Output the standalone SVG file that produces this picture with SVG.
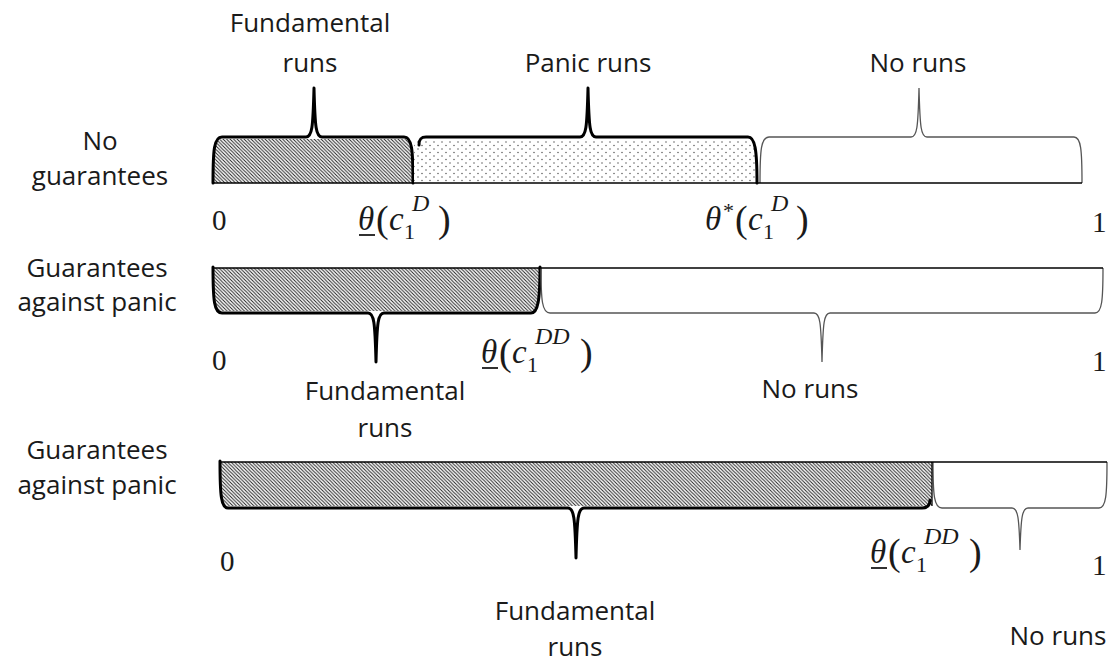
<svg xmlns="http://www.w3.org/2000/svg" width="1115" height="667" viewBox="0 0 1115 667">
<style>
.lbl{font-family:"Open Sans","Liberation Sans",sans-serif;font-size:26px;fill:#1a1a1a;text-anchor:middle}
.num{font-family:"Liberation Serif","Times New Roman",serif;font-size:29px;fill:#1a1a1a}
.mi{font-family:"Liberation Serif","Times New Roman",serif;font-size:33px;font-style:italic;fill:#1a1a1a}
.mp{font-family:"Liberation Serif","Times New Roman",serif;font-size:38px;fill:#1a1a1a}
.ms{font-family:"Liberation Serif","Times New Roman",serif;font-size:22px;fill:#1a1a1a}
.msup{font-family:"Liberation Serif","Times New Roman",serif;font-size:24px;font-style:italic;fill:#1a1a1a}
.ul{stroke:#1a1a1a;stroke-width:1.8}
.thick{fill:none;stroke:#000;stroke-width:3;stroke-linejoin:round;stroke-linecap:round}
.thin{fill:none;stroke:#555;stroke-width:1.3}
.axis{fill:none;stroke:#000;stroke-width:1.3}
.hatch{fill:url(#hatch);stroke:none}
.dots{fill:url(#dots);stroke:none}
</style>
<defs>
<pattern id="hatch" width="3.5" height="3.5" patternUnits="userSpaceOnUse">
<rect width="3.5" height="3.5" fill="#fff"/>
<path d="M0,0 L3.5,3.5 M-1,2.5 L1,4.5 M2.5,-1 L4.5,1" stroke="#222" stroke-width="1"/>
</pattern>
<pattern id="dots" width="8" height="7" patternUnits="userSpaceOnUse">
<rect width="8" height="7" fill="#fff"/>
<circle cx="2" cy="2" r="0.75" fill="#555"/>
<circle cx="6" cy="5.5" r="0.75" fill="#555"/>
</pattern>
</defs>
<rect width="1115" height="667" fill="#fff"/>

<!-- Row 1: No guarantees -->
<g id="row1-label"><text class="lbl" x="100" y="150">No</text><text class="lbl" x="100" y="185">guarantees</text></g>
<g id="row1-fundamental">
<path class="hatch" d="M213,183 C213,152 214,139 222,139 L404,139 C412,139 413,152 413,183 Z"/>
<path class="thick" d="M213,183 C213,150 214,137 222,137 L306,137 C312,137 313,128 314,88 C315,128 316,137 322,137 L404,137 C412,137 413,150 413,183"/>
<text class="lbl" x="310" y="32">Fundamental</text><text class="lbl" x="310" y="72">runs</text>
</g>
<g id="row1-panic">
<path class="dots" d="M414,183 L414,140 L749,140 C755,140 756,150 756,183 Z"/>
<path class="thick" d="M419,145 C419,139 421,137 426,137 L580,137 C586,137 587,128 588,88 C589,128 590,137 596,137 L748,137 C755,137 757,150 757,183"/>
<text class="lbl" x="588" y="72">Panic runs</text>
</g>
<g id="row1-noruns">
<path class="thin" d="M760,183 C760,150 761,137 769,137 L911,137 C917,137 918,128 919,88 C920,128 921,137 927,137 L1074,137 C1081,137 1082,150 1082,183"/>
<text class="lbl" x="918" y="72">No runs</text>
</g>
<g id="row1-ticks">
<text class="num" x="212" y="230">0</text>
<text class="num" x="1092" y="232">1</text>
<g transform="translate(358,230)">
<text class="mi" x="0" y="0">θ</text><line class="ul" x1="1" y1="5" x2="17" y2="5"/>
<text class="mp" x="18" y="2">(</text><text class="mi" x="31" y="0">c</text>
<text class="ms" x="46" y="9">1</text><text class="msup" x="54" y="-19">D</text>
<text class="mp" x="80" y="2">)</text>
</g>
<g transform="translate(705,230)">
<text class="mi" x="0" y="0">θ</text><text class="ms" x="18" y="-12">*</text>
<text class="mp" x="30" y="2">(</text><text class="mi" x="43" y="0">c</text>
<text class="ms" x="58" y="9">1</text><text class="msup" x="66" y="-19">D</text>
<text class="mp" x="91" y="2">)</text>
</g>
</g>

<!-- Row 2 -->
<g id="row2-label"><text class="lbl" x="97" y="277">Guarantees</text><text class="lbl" x="97" y="311">against panic</text></g>
<g id="row2-fundamental">
<path class="hatch" d="M213,268 L540,268 C540,300 538,311 531,311 L222,311 C214,311 213,300 213,268 Z"/>
<path class="thick" d="M213,267 C213,300 214,313 222,313 L368,313 C374,313 375,322 376,362 C377,322 378,313 384,313 L531,313 C538,313 540,300 540,267"/>
<text class="lbl" x="385" y="400">Fundamental</text><text class="lbl" x="385" y="437">runs</text>
</g>
<g id="row2-noruns">
<path class="thin" d="M541,268 C541,300 542,313 550,313 L814,313 C820,313 821,322 822,362 C823,322 824,313 830,313 L1095,313 C1102,313 1103,300 1103,268"/>
<text class="lbl" x="810" y="398">No runs</text>
</g>
<g id="row2-ticks">
<text class="num" x="212" y="370">0</text>
<text class="num" x="1092" y="371">1</text>
<g transform="translate(481,363)">
<text class="mi" x="0" y="0">θ</text><line class="ul" x1="1" y1="5" x2="17" y2="5"/>
<text class="mp" x="18" y="2">(</text><text class="mi" x="31" y="0">c</text>
<text class="ms" x="46" y="9">1</text><text class="msup" x="54" y="-19">DD</text>
<text class="mp" x="99" y="2">)</text>
</g>
</g>

<!-- Row 3 -->
<g id="row3-label"><text class="lbl" x="97" y="459">Guarantees</text><text class="lbl" x="97" y="494">against panic</text></g>
<g id="row3-fundamental">
<path class="hatch" d="M220,462 L932,462 L932,506 L228,506 C221,506 220,495 220,462 Z"/>
<path class="thick" d="M220,461 C220,495 221,508 228,508 L568,508 C574,508 575,518 576,558 C577,518 578,508 584,508 L922,508 C928,508 930,505 930,500"/>
<text class="lbl" x="575" y="620">Fundamental</text><text class="lbl" x="575" y="656">runs</text>
</g>
<g id="row3-noruns">
<path class="thin" d="M933,462 C933,495 934,508 942,508 L1012,508 C1018,508 1019,518 1020,550 C1021,518 1022,508 1028,508 L1099,508 C1106,508 1107,495 1107,462"/>
<text class="lbl" x="1058" y="645">No runs</text>
</g>
<g id="row3-ticks">
<text class="num" x="220" y="571">0</text>
<text class="num" x="1092" y="575">1</text>
<g transform="translate(870,563)">
<text class="mi" x="0" y="0">θ</text><line class="ul" x1="1" y1="5" x2="17" y2="5"/>
<text class="mp" x="18" y="2">(</text><text class="mi" x="31" y="0">c</text>
<text class="ms" x="46" y="9">1</text><text class="msup" x="54" y="-19">DD</text>
<text class="mp" x="99" y="2">)</text>
</g>
</g>

<!-- connectors: axis lines -->
<g id="connectors">
<path class="axis" d="M213,183 L1082,183"/>
<path class="axis" d="M213,268 L1103,268"/>
<path class="axis" d="M220,462 L1107,462"/>
<path class="axis" d="M932,462 L932,506"/>
</g>
</svg>
